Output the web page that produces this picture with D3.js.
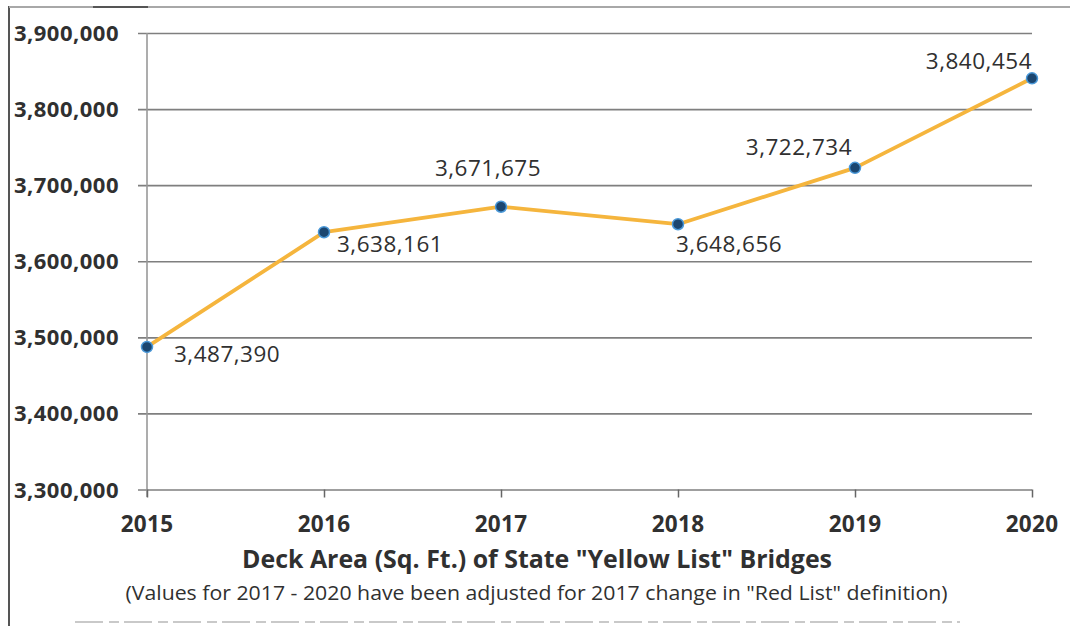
<!DOCTYPE html>
<html>
<head>
<meta charset="utf-8">
<script src="https://cdn.jsdelivr.net/npm/d3@7"></script>
<style>
  html, body { margin: 0; padding: 0; background: #fff; }
  svg { display: block; }
</style>
</head>
<body>
<svg id="chart" width="1070" height="626"></svg>
<script>
// Deck area of state "Yellow List" bridges, 2015–2020
const years = ["2015", "2016", "2017", "2018", "2019", "2020"];
const deckArea = [3487390, 3638161, 3671675, 3648656, 3722734, 3840454];
const yTicks = [3300000, 3400000, 3500000, 3600000, 3700000, 3800000, 3900000];
const title = "Deck Area (Sq. Ft.) of State \"Yellow List\" Bridges";
const subtitle = "(Values for 2017 - 2020 have been adjusted for 2017 change in \"Red List\" definition)";

// where each value label sits relative to its marker
const labelPlacement = [
  { dx: 27, dy: 15, anchor: "start" },
  { dx: 13, dy: 20, anchor: "start" },
  { dx: -13, dy: -31, anchor: "middle" },
  { dx: -2, dy: 28, anchor: "start" },
  { dx: -3, dy: -13, anchor: "end" },
  { dx: 0, dy: -9, anchor: "end" }
];

const svg = d3.select("#chart");
const fmt = d3.format(",");

const x = d3.scalePoint().domain(years).range([147, 1032]);
const y = d3.scaleLinear().domain([3300000, 3900000]).range([489.5, 33]);

// page frame
svg.append("line").attr("x1", 9).attr("x2", 9).attr("y1", 6).attr("y2", 626)
  .attr("stroke", "#555").attr("stroke-width", 2);
svg.append("line").attr("x1", 9).attr("x2", 1070).attr("y1", 7).attr("y2", 7)
  .attr("stroke", "#a8a8a8").attr("stroke-width", 2);
svg.append("line").attr("x1", 93).attr("x2", 148).attr("y1", 7).attr("y2", 7)
  .attr("stroke", "#555").attr("stroke-width", 2);
svg.append("line").attr("x1", 75).attr("x2", 960).attr("y1", 622).attr("y2", 622)
  .attr("stroke", "#b8b8b8").attr("stroke-width", 1.5).attr("stroke-dasharray", "28 6 10 5");

// horizontal gridlines with left tick stubs
const yAxis = d3.axisLeft(y).tickValues(yTicks).tickSize(-(1032 - 138)).tickFormat("");
const yg = svg.append("g").attr("transform", "translate(138,0)").call(yAxis);
yg.select(".domain").remove();
yg.selectAll(".tick line").attr("stroke", "#7f7f7f").attr("stroke-width", 1.7);

// y axis line
svg.append("line").attr("x1", 147).attr("x2", 147).attr("y1", 33).attr("y2", 497)
  .attr("stroke", "#999").attr("stroke-width", 1.6);

// x axis ticks
const xAxis = d3.axisBottom(x).tickSize(8).tickSizeOuter(0).tickFormat("");
const xg = svg.append("g").attr("transform", "translate(0,489.5)").call(xAxis);
xg.select(".domain").remove();
xg.selectAll(".tick line").attr("stroke", "#666").attr("stroke-width", 1.5);

// y tick labels
svg.append("g").selectAll("text").data(yTicks).join("text")
  .attr("x", 119).attr("y", d => y(d) + 8)
  .attr("text-anchor", "end")
  .attr("font-family", "'Open Sans', sans-serif").attr("font-weight", 700)
  .attr("font-size", 22).attr("letter-spacing", 0.5)
  .attr("fill", "#303030")
  .text(d => fmt(d));

// x tick labels
svg.append("g").selectAll("text").data(years).join("text")
  .attr("x", d => x(d)).attr("y", 532)
  .attr("text-anchor", "middle")
  .attr("font-family", "'Open Sans', sans-serif").attr("font-weight", 700)
  .attr("font-size", 22.5).attr("letter-spacing", 0.3)
  .attr("fill", "#303030")
  .text(d => d);

// series line
const pts = years.map((yr, i) => ({ yr, v: deckArea[i], i }));
svg.append("path").datum(pts)
  .attr("d", d3.line().x(d => x(d.yr)).y(d => y(d.v)))
  .attr("fill", "none").attr("stroke", "#f5b53d").attr("stroke-width", 3.8)
  .attr("stroke-linejoin", "round");

// markers
svg.append("g").selectAll("circle").data(pts).join("circle")
  .attr("cx", d => x(d.yr)).attr("cy", d => y(d.v)).attr("r", 5.5)
  .attr("fill", "#1b4670").attr("stroke", "#4a98d8").attr("stroke-width", 1.5);

// value labels
svg.append("g").selectAll("text").data(pts).join("text")
  .attr("x", d => x(d.yr) + labelPlacement[d.i].dx)
  .attr("y", d => y(d.v) + labelPlacement[d.i].dy)
  .attr("text-anchor", d => labelPlacement[d.i].anchor)
  .attr("font-family", "'Open Sans', sans-serif")
  .attr("font-size", 22.5).attr("letter-spacing", 0.5)
  .attr("fill", "#303030")
  .text(d => fmt(d.v));

// titles
svg.append("text").attr("x", 537).attr("y", 568)
  .attr("text-anchor", "middle")
  .attr("font-family", "'Open Sans', sans-serif").attr("font-weight", 700)
  .attr("font-size", 24.5).attr("fill", "#303030")
  .attr("textLength", 590).attr("lengthAdjust", "spacingAndGlyphs")
  .text(title);
svg.append("text").attr("x", 536.5).attr("y", 600)
  .attr("text-anchor", "middle")
  .attr("font-family", "'Open Sans', sans-serif")
  .attr("font-size", 20).attr("fill", "#303030")
  .attr("textLength", 822).attr("lengthAdjust", "spacingAndGlyphs")
  .text(subtitle);
</script>
</body>
</html>
